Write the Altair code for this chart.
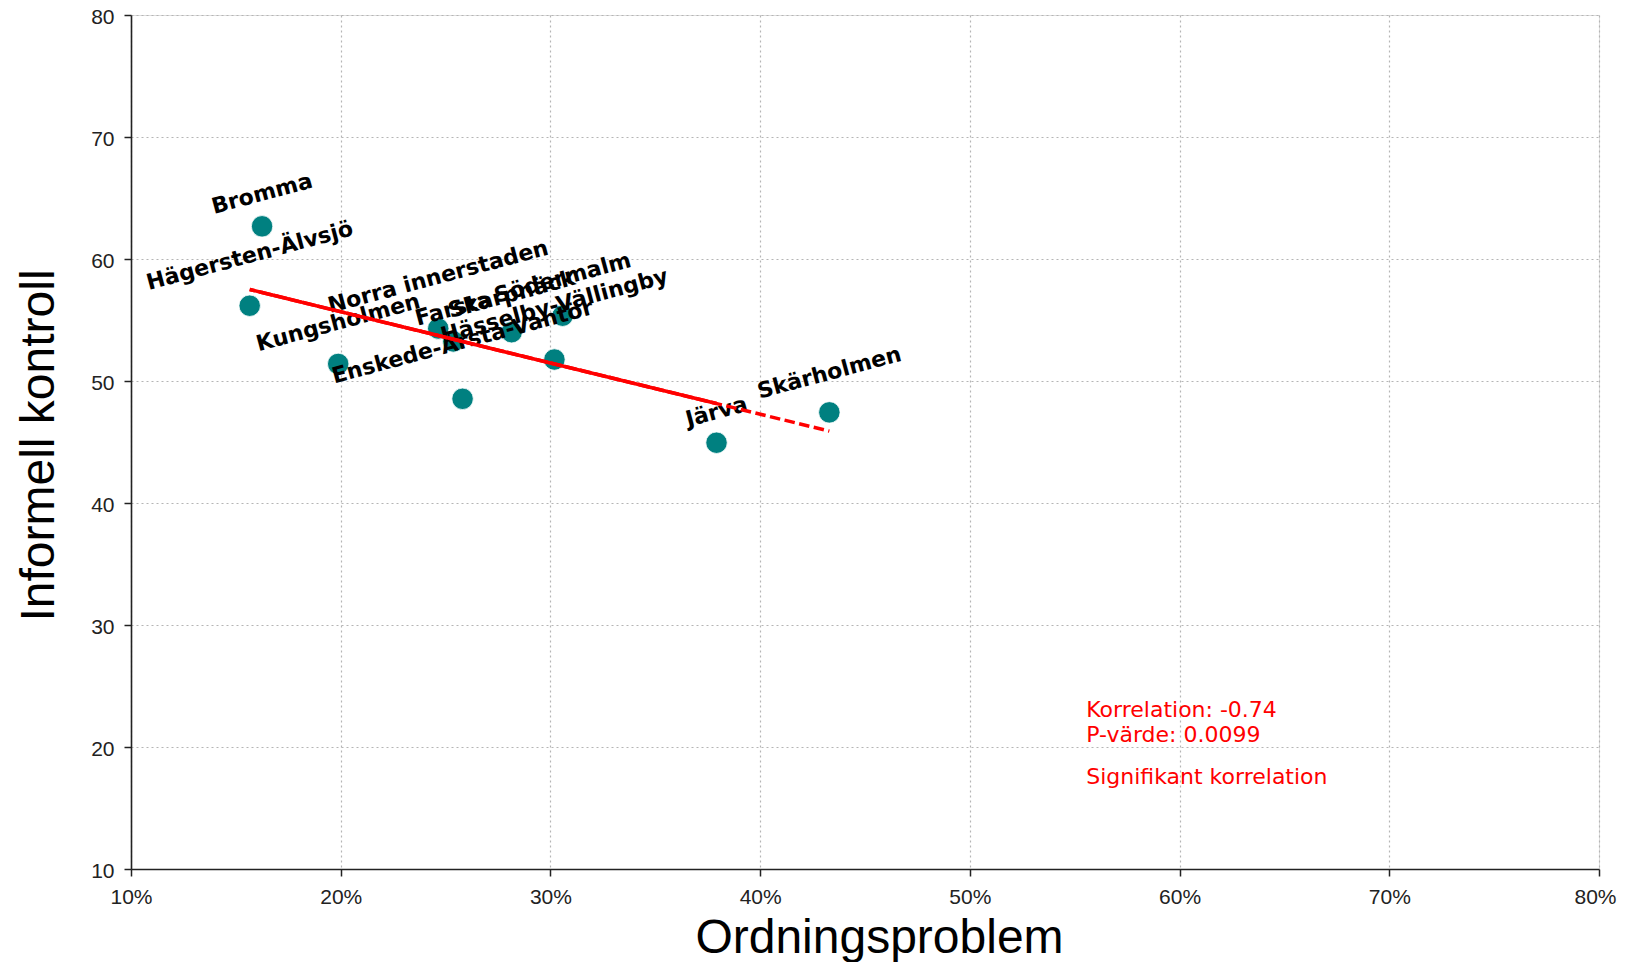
import altair as alt
import numpy as np
import pandas as pd

# ---- data ----
districts = [
    "Bromma", "Enskede-Årsta-Vantör", "Farsta", "Hägersten-Älvsjö",
    "Hässelby-Vällingby", "Järva", "Kungsholmen", "Norra innerstaden",
    "Skarpnäck", "Södermalm", "Skärholmen",
]
ordning = [16.25, 25.81, 25.37, 15.66, 30.19, 37.92, 19.88, 24.65, 28.15, 30.58, 43.3]
informell = [62.68, 48.54, 53.24, 56.17, 51.76, 44.94, 51.4, 54.3, 54.0, 55.35, 47.43]

x_ticks = [10, 20, 30, 40, 50, 60, 70, 80]
y_ticks = [10, 20, 30, 40, 50, 60, 70, 80]

corr_text = "Korrelation: -0.74\nP-värde: 0.0099"
sig_text = "Signifikant korrelation"

# ---- derived table ----
df = pd.DataFrame({
    "district": districts,
    "ordning": ordning,
    "informell": informell,
    "idx": list(range(len(districts))),
})
slope, intercept = np.polyfit(df["ordning"], df["informell"], 1)
df["fit"] = intercept + slope * df["ordning"]
x_max = df["ordning"].max()

W, H = 1468, 854
px_per_unit = H / 70.0

x_scale = alt.Scale(domain=[10, 80], nice=False, zero=False)
y_scale = alt.Scale(domain=[10, 80], nice=False, zero=False)

x_axis = alt.Axis(
    values=x_ticks, labelExpr="datum.value + '%'", title="Ordningsproblem",
    labelFont="Liberation Sans", labelFontSize=21, labelColor="#222",
    labelPadding=10, labelFlush=False,
    labelOffset={"condition": {"test": f"datum.value == {x_ticks[-1]}", "value": -4}, "value": 0},
    tickSize=7, tickWidth=1.5, tickColor="#222",
    domainColor="#222", domainWidth=1.6, grid=True, gridColor="#b5b5b5",
    gridDash=[2, 3], gridWidth=1.2,
    titleFont="Liberation Sans", titleFontSize=48, titleFontWeight="normal",
    titleColor="black", titleX=748, titleY=83, titleAlign="center",
    titleBaseline="alphabetic", titleAnchor="start",
)
y_axis = alt.Axis(
    values=y_ticks, title="Informell kontroll",
    labelFont="Liberation Sans", labelFontSize=21, labelColor="#222",
    labelPadding=10, labelFlush=False, labelOffset=2, tickSize=7, tickWidth=1.5,
    tickColor="#222", domainColor="#222", domainWidth=1.6, grid=True,
    gridColor="#b5b5b5", gridDash=[2, 3], gridWidth=1.2,
    titleFont="Liberation Sans", titleFontSize=48, titleFontWeight="normal",
    titleColor="black", titleX=-78, titleY=430, titleAngle=270,
    titleAlign="center", titleBaseline="alphabetic", titleAnchor="start",
)


def X(field):
    return alt.X(f"{field}:Q", scale=x_scale, axis=x_axis, title="Ordningsproblem")


def Y(field):
    return alt.Y(f"{field}:Q", scale=y_scale, axis=y_axis, title="Informell kontroll")


base = alt.Chart(df)

points = base.mark_circle(
    size=460, color="#008080", opacity=1, stroke="white", strokeWidth=0.8
).encode(x=X("ordning"), y=Y("informell"))

labels = base.transform_calculate(
    label_y=(
        "datum.informell + (10 + 0.5*(length(datum.district)*13.5*0.2588 + 25*0.9659))/"
        + str(px_per_unit)
    )
).mark_text(
    font="DejaVu Sans", fontWeight="bold", fontSize=22, angle=345,
    align="center", baseline="middle", color="black",
).encode(x=X("ordning"), y=Y("label_y"), text="district:N")

# regression line drawn in data order (dashes overlap where it doubles back)
fit_dashed = base.mark_line(
    color="red", strokeWidth=3.5, strokeDash=[10.5, 4.5]
).encode(x=X("ordning"), y=Y("fit"), order=alt.Order("idx:Q"))

fit_solid = base.transform_filter(
    f"datum.ordning < {x_max}"
).mark_line(color="red", strokeWidth=3.5).encode(
    x=X("ordning"), y=Y("fit"), order=alt.Order("ordning:Q")
)

corr = alt.Chart(pd.DataFrame({"t": [corr_text]})).mark_text(
    font="DejaVu Sans", fontSize=22, color="red", align="left",
    baseline="alphabetic", lineBreak="\n", lineHeight=25,
).encode(x=alt.datum(55.55), y=alt.datum(22.5), text="t:N")

sig = alt.Chart(pd.DataFrame({"t": [sig_text]})).mark_text(
    font="DejaVu Sans", fontSize=22, color="red", align="left",
    baseline="alphabetic",
).encode(x=alt.datum(55.55), y=alt.datum(17.0), text="t:N")

chart = alt.layer(points, labels, fit_dashed, fit_solid, corr, sig).properties(
    width=W, height=H,
    autosize=alt.AutoSizeParams(type="none"),
    padding={"left": 123, "top": 7, "right": 18, "bottom": 93},
).configure_view(
    stroke="#222", strokeWidth=1.6
).configure(background="white")

chart.save("out.html", embed_options={"renderer": "svg", "actions": False})
